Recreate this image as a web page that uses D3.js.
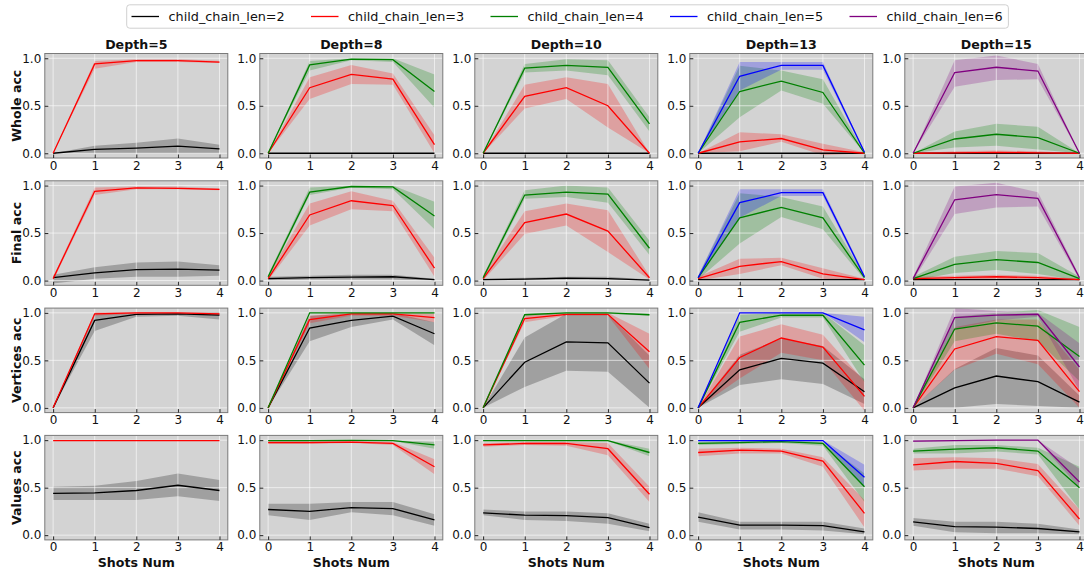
<!DOCTYPE html>
<html><head><meta charset="utf-8">
<script src="https://cdn.jsdelivr.net/npm/d3@7"></script>
<style>body{margin:0;background:#fff} text{font-family:"DejaVu Sans",sans-serif;fill:#111}</style>
</head><body><svg id="c" width="1084" height="570"></svg>
<script>
const depths = [5, 8, 10, 13, 15];
const metrics = ["Whole acc", "Final acc", "Vertices acc", "Values acc"];
const chainLens = [2, 3, 4, 5, 6];
const shots = [0, 1, 2, 3, 4];
const yTicks = [0, 0.5, 1.0];
const colors = ["black", "red", "green", "blue", "purple"];

// [depth][chainLen] -> values over shots (null = not plotted)
const wholeMean = [
  [[0,0.04,0.055,0.075,0.045],[0,0.94,0.975,0.975,0.96]],
  [[0,0,0,0,0],[0,0.69,0.83,0.78,0.09],[0,0.93,0.99,0.985,0.65]],
  [[0,0,0,0,0],[0,0.60,0.69,0.50,0.0],[0,0.895,0.925,0.905,0.31]],
  [[0,0,0,0,0],[0,0.12,0.155,0.035,0.0],[0,0.65,0.76,0.64,0.0],[0,0.81,0.925,0.925,0.01]],
  [[0,0,0,0,0],[0,0.005,0.01,0.005,0],[0,0.15,0.20,0.165,0.0],null,[0,0.85,0.905,0.865,0]]
];
const wholeLow = [
  [[0,0,0,0,0],[0,0.89,0.96,0.96,0.95]],
  [[0,0,0,0,0],[0,0.57,0.73,0.72,0.0],[0,0.87,0.98,0.96,0.48]],
  [[0,0,0,0,0],[0,0.47,0.57,0.27,0],[0,0.85,0.87,0.82,0.23]],
  [[0,0,0,0,0],[0,0.02,0.12,-0.02,0],[0,0.38,0.66,0.52,0],[0,0.66,0.88,0.88,0]],
  [[0,0,0,0,0],[0,0,0,0,0],[0,0.06,0.08,0.04,0],null,[0,0.70,0.77,0.78,0]]
];
const wholeHigh = [
  [[0,0.08,0.11,0.155,0.09],[0,0.97,0.99,0.99,0.975]],
  [[0,0,0,0,0],[0,0.80,0.93,0.84,0.19],[0,0.97,1.0,1.0,0.83]],
  [[0,0,0,0,0],[0,0.72,0.80,0.73,0],[0,0.94,0.99,0.98,0.38]],
  [[0,0,0,0,0],[0,0.22,0.20,0.10,0.01],[0,0.92,0.87,0.78,0.01],[0,0.96,0.96,0.96,0.02]],
  [[0,0,0,0,0],[0,0.02,0.03,0.02,0],[0,0.23,0.31,0.28,0],null,[0,0.98,1.03,0.94,0]]
];

const finalMean = [
  [[0.03,0.08,0.115,0.12,0.11],[0.02,0.94,0.975,0.97,0.96]],
  [[0.02,0.03,0.035,0.04,0.01],[0.02,0.69,0.84,0.79,0.13],[0.04,0.93,0.99,0.985,0.68]],
  [[0.01,0.015,0.025,0.02,0.005],[0.02,0.61,0.70,0.52,0.03],[0.03,0.90,0.93,0.91,0.34]],
  [[0.01,0.01,0.01,0.01,0.01],[0.02,0.15,0.20,0.07,0.01],[0.03,0.66,0.77,0.66,0.03],[0.03,0.82,0.925,0.925,0.04]],
  [[0.01,0.01,0.01,0.01,0.01],[0.02,0.03,0.04,0.03,0.01],[0.02,0.17,0.22,0.19,0.02],null,[0.02,0.85,0.905,0.865,0.03]]
];
const finalLow = [
  [[-0.03,0.02,0.04,0.04,0.05],[0,0.90,0.96,0.96,0.95]],
  [[0,0.01,0.01,0.01,0],[0,0.58,0.75,0.73,0.04],[0.02,0.90,0.98,0.96,0.54]],
  [[0,0,0.01,0.01,0],[0,0.49,0.58,0.30,0.01],[0.01,0.86,0.88,0.82,0.27]],
  [[0,0,0,0,0],[0,0.07,0.16,0.02,0],[0.01,0.39,0.67,0.54,0.01],[0.01,0.66,0.89,0.89,0.02]],
  [[0,0,0,0,0],[0,0.01,0.02,0.01,0],[0,0.08,0.11,0.07,0],null,[0,0.70,0.77,0.78,0.01]]
];
const finalHigh = [
  [[0.06,0.14,0.19,0.20,0.16],[0.04,0.98,0.99,0.99,0.97]],
  [[0.04,0.05,0.06,0.06,0.02],[0.05,0.81,0.94,0.84,0.24],[0.06,0.98,1.0,1.0,0.83]],
  [[0.02,0.03,0.04,0.04,0.01],[0.06,0.73,0.81,0.74,0.05],[0.05,0.95,1.0,0.98,0.42]],
  [[0.02,0.02,0.02,0.02,0.02],[0.04,0.23,0.24,0.13,0.02],[0.05,0.92,0.88,0.78,0.05],[0.05,0.96,0.96,0.96,0.06]],
  [[0.02,0.02,0.02,0.02,0.02],[0.04,0.05,0.06,0.05,0.02],[0.04,0.25,0.31,0.29,0.04],null,[0.04,0.99,1.03,0.93,0.05]]
];

const verticesMean = [
  [[0,0.92,0.985,0.99,0.975],[0,0.99,1.0,1.0,0.99]],
  [[0,0.84,0.92,0.965,0.78],[0,0.93,0.99,0.99,0.95],[0,1.0,1.0,1.0,1.0]],
  [[0,0.48,0.695,0.685,0.26],[0,0.94,0.985,0.985,0.59],[0,0.98,1.0,1.0,0.98]],
  [[0,0.40,0.52,0.47,0.17],[0,0.53,0.735,0.64,0.12],[0,0.90,0.975,0.975,0.45],[0,1.0,1.0,1.0,0.82]],
  [[0,0.21,0.335,0.275,0.06],[0,0.62,0.75,0.71,0.17],[0,0.83,0.895,0.86,0.54],null,[0,0.95,0.975,0.985,0.43]]
];
const verticesLow = [
  [[0,0.81,0.96,0.97,0.93],[0,0.97,0.99,0.99,0.98]],
  [[0,0.70,0.85,0.93,0.66],[0,0.89,0.97,0.97,0.90],[0,1.0,1.0,1.0,0.99]],
  [[0,0.22,0.39,0.38,0.0],[0,0.90,0.97,0.97,0.41],[0,0.97,0.99,0.99,0.97]],
  [[0,0.24,0.30,0.25,0.04],[0,0.31,0.58,0.50,-0.03],[0,0.80,0.95,0.95,0.27],[0,1.0,1.0,1.0,0.69]],
  [[0,0.0,0.04,0.02,0],[0,0.40,0.57,0.46,0.0],[0,0.70,0.78,0.70,0.28],null,[0,0.83,0.92,0.96,0.18]]
];
const verticesHigh = [
  [[0,1.0,1.0,1.0,1.01],[0,1.01,1.01,1.01,1.0]],
  [[0,0.97,0.99,1.0,0.90],[0,0.97,1.0,1.0,0.99],[0,1.0,1.0,1.0,1.0]],
  [[0,0.74,0.99,0.99,0.55],[0,0.97,1.0,1.0,0.78],[0,0.99,1.0,1.0,0.99]],
  [[0,0.56,0.73,0.65,0.30],[0,0.75,0.88,0.77,0.28],[0,0.98,1.0,1.0,0.66],[0,1.0,1.0,1.0,0.96]],
  [[0,0.41,0.63,0.55,0.13],[0,0.85,0.93,0.93,0.40],[0,0.96,1.0,1.03,0.85],null,[0,1.05,1.02,1.0,0.68]]
];

const valuesMean = [
  [[0.44,0.445,0.47,0.525,0.47],[0.995,0.995,0.995,0.995,0.995]],
  [[0.27,0.25,0.29,0.28,0.16],[0.975,0.975,0.98,0.965,0.72],[0.995,0.995,0.998,0.995,0.95]],
  [[0.235,0.21,0.205,0.185,0.08],[0.95,0.965,0.965,0.91,0.43],[0.995,0.995,0.995,0.995,0.87]],
  [[0.19,0.105,0.105,0.10,0.035],[0.87,0.895,0.885,0.78,0.23],[0.965,0.975,0.985,0.965,0.51],[0.995,0.995,0.995,0.995,0.61]],
  [[0.14,0.09,0.085,0.07,0.035],[0.74,0.775,0.755,0.68,0.17],[0.885,0.905,0.92,0.885,0.50],null,[0.99,0.995,1.0,1.0,0.56]]
];
const valuesLow = [
  [[0.37,0.37,0.37,0.41,0.36],[0.99,0.99,0.99,0.99,0.99]],
  [[0.21,0.16,0.24,0.21,0.10],[0.96,0.96,0.97,0.95,0.64],[0.99,0.99,0.99,0.99,0.91]],
  [[0.21,0.16,0.15,0.12,0.04],[0.93,0.95,0.94,0.84,0.35],[0.99,0.99,0.99,0.99,0.83]],
  [[0.14,0.06,0.06,0.05,0.01],[0.83,0.86,0.86,0.72,0.08],[0.95,0.96,0.97,0.94,0.35],[0.99,0.99,0.99,0.99,0.50]],
  [[0.10,0.03,0.02,0.02,0.01],[0.68,0.70,0.70,0.62,0.10],[0.86,0.86,0.88,0.85,0.27],null,[0.98,0.99,0.99,0.99,0.50]]
];
const valuesHigh = [
  [[0.51,0.52,0.57,0.65,0.58],[1.0,1.0,1.0,1.0,1.0]],
  [[0.33,0.33,0.35,0.35,0.22],[0.99,0.99,0.99,0.98,0.80],[1.0,1.0,1.0,1.0,0.98]],
  [[0.27,0.25,0.25,0.23,0.12],[0.97,0.98,0.98,0.97,0.51],[1.0,1.0,1.0,1.0,0.91]],
  [[0.24,0.14,0.14,0.14,0.07],[0.91,0.92,0.91,0.82,0.37],[0.98,0.99,1.0,0.98,0.65],[1.0,1.0,1.0,1.0,0.74]],
  [[0.18,0.14,0.14,0.12,0.06],[0.81,0.82,0.81,0.75,0.27],[0.91,0.95,0.95,0.92,0.72],null,[1.0,1.0,1.0,1.0,0.70]]
];

const meanSets = [wholeMean, finalMean, verticesMean, valuesMean];
const lowSets = [wholeLow, finalLow, verticesLow, valuesLow];
const highSets = [wholeHigh, finalHigh, verticesHigh, valuesHigh];

// ---------- layout ----------
const svg = d3.select("#c");
const PW = 183, PH = 104.5;
const colX = d3.scaleLinear().domain([0, 1]).range([44.8, 259.8]);
const rowY = d3.scaleLinear().domain([0, 1]).range([53.5, 180.8]);
const x = d3.scaleLinear().domain([-0.2, 4.2]).range([0, PW]);
const y = d3.scaleLinear().domain([-0.05, 1.05]).range([PH, 0]);

const defs = svg.append("defs");
defs.append("clipPath").attr("id", "clip").append("rect").attr("width", PW).attr("height", PH);

const line = d3.line().x((d, i) => x(shots[i])).y(d => y(d));

metrics.forEach((m, r) => {
  depths.forEach((dep, c) => {
    const g = svg.append("g").attr("transform", `translate(${colX(c)},${rowY(r)})`);
    g.append("rect").attr("width", PW).attr("height", PH).attr("fill", "#d3d3d3");
    const plot = g.append("g").attr("clip-path", "url(#clip)");
    const means = meanSets[r][c], lows = lowSets[r][c], highs = highSets[r][c];
    // bands
    chainLens.forEach((cl, k) => {
      const mv = means[k];
      if (!mv) return;
      const lo = lows[k], hi = highs[k];
      const area = d3.area().x((d, i) => x(shots[i])).y0((d, i) => y(lo[i])).y1((d, i) => y(hi[i]));
      plot.append("path").attr("d", area(mv)).attr("fill", colors[k]).attr("fill-opacity", 0.24);
    });
    // grid
    plot.selectAll(".gx").data(shots).join("line")
      .attr("x1", d => x(d)).attr("x2", d => x(d)).attr("y1", 0).attr("y2", PH)
      .attr("stroke", "#fff").attr("stroke-opacity", 0.75).attr("stroke-width", 0.8);
    plot.selectAll(".gy").data(yTicks).join("line")
      .attr("y1", d => y(d)).attr("y2", d => y(d)).attr("x1", 0).attr("x2", PW)
      .attr("stroke", "#fff").attr("stroke-opacity", 0.75).attr("stroke-width", 0.8);
    // lines
    chainLens.forEach((cl, k) => {
      const mv = means[k];
      if (!mv) return;
      plot.append("path").attr("d", line(mv)).attr("fill", "none")
        .attr("stroke", colors[k]).attr("stroke-width", 1.3);
    });
    // frame
    g.append("rect").attr("width", PW).attr("height", PH).attr("fill", "none")
      .attr("stroke", "#7a7a7a").attr("stroke-width", 1);
    // axes ticks (inward)
    const ax = g.append("g").attr("transform", `translate(0,${PH})`)
      .call(d3.axisBottom(x).tickValues(shots).tickFormat(d3.format("d")).tickSizeInner(-3.5).tickSizeOuter(0).tickPadding(3));
    const ay = g.append("g")
      .call(d3.axisLeft(y).tickValues(yTicks).tickFormat(d3.format(".1f")).tickSizeInner(-3.5).tickSizeOuter(0).tickPadding(3.5));
    [ax, ay].forEach(a => {
      a.select(".domain").remove();
      a.selectAll(".tick line").attr("stroke", "#222");
      a.selectAll(".tick text").attr("font-size", 12).attr("font-family", "DejaVu Sans").attr("fill", "#222");
    });
    if (r === 0) {
      g.append("text").attr("x", PW / 2).attr("y", -4.5).attr("text-anchor", "middle")
        .attr("font-weight", "bold").attr("font-size", 12.6).text(`Depth=${dep}`);
    }
    if (r === metrics.length - 1) {
      g.append("text").attr("x", PW / 2).attr("y", 566.8 - rowY(r)).attr("text-anchor", "middle")
        .attr("font-weight", "bold").attr("font-size", 12.6).text("Shots Num");
    }
    if (c === 0) {
      g.append("text").attr("transform", `translate(${20.5 - colX(0)},${PH / 2}) rotate(-90)`)
        .attr("text-anchor", "middle").attr("font-weight", "bold").attr("font-size", 12.6).text(m);
    }
  });
});

// ---------- legend ----------
const legend = svg.append("g");
legend.append("rect").attr("x", 126.7).attr("y", 4.8).attr("width", 881.7).attr("height", 23.4)
  .attr("rx", 3).attr("fill", "#fff").attr("fill-opacity", 0.8).attr("stroke", "#d0d0d0").attr("stroke-width", 1);
const lx = d3.scaleLinear().domain([0, 1]).range([131.5, 311]);
chainLens.forEach((cl, k) => {
  const gx = lx(k);
  legend.append("line").attr("x1", gx).attr("x2", gx + 27.5).attr("y1", 16.5).attr("y2", 16.5)
    .attr("stroke", colors[k]).attr("stroke-width", 1.3);
  legend.append("text").attr("x", gx + 37).attr("y", 21).attr("font-size", 12.8)
    .attr("fill", "#222").text(`child_chain_len=${cl}`);
});
</script></body></html>
